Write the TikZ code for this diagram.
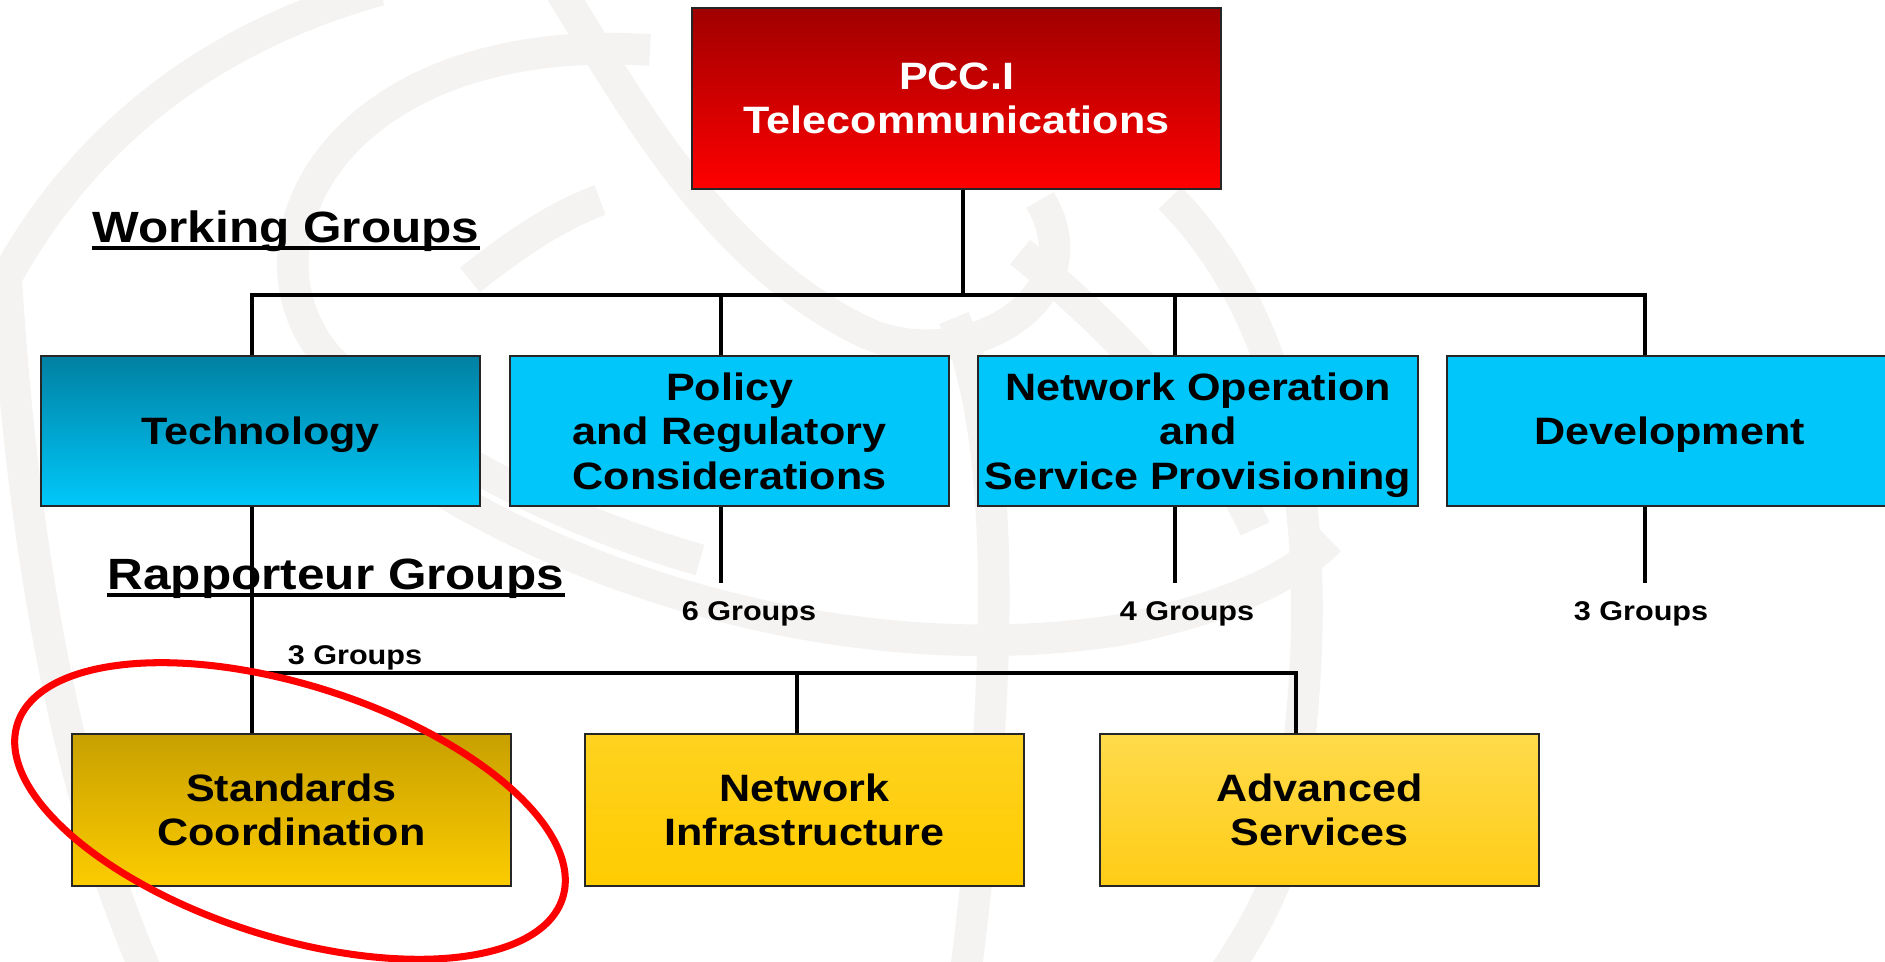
\documentclass[tikz,border=0pt]{standalone}
\usepackage{fontspec}
\setmainfont{Liberation Sans}[FakeStretch=1.13]
\usepackage{tikz}
\usetikzlibrary{positioning}

\definecolor{pcctop}{RGB}{160,0,0}
\definecolor{pccbot}{RGB}{255,0,0}
\definecolor{techtop}{RGB}{0,128,162}
\definecolor{techbot}{RGB}{0,200,250}
\definecolor{wgblue}{RGB}{0,198,249}
\definecolor{stdtop}{RGB}{200,160,0}
\definecolor{stdbot}{RGB}{252,204,0}
\definecolor{inftop}{RGB}{254,210,32}
\definecolor{infbot}{RGB}{255,204,0}
\definecolor{advtop}{RGB}{255,219,76}
\definecolor{advbot}{RGB}{255,204,22}
\definecolor{wmark}{RGB}{244,243,241}

\newcommand\boxtxt{\bfseries\fontsize{10.85}{12.6}\selectfont}
\newcommand\headtxt{\bfseries\fontsize{12.45}{14}\selectfont}
\newcommand\smalltxt{\bfseries\fontsize{7.7}{9}\selectfont}

\tikzset{
  box/.style={draw=black!85, line width=0.6pt, minimum width=4.39cm, minimum height=1.5cm,
    inner sep=0pt, align=center, font=\boxtxt, text depth=-3.6pt},
  wgbox/.style={box, fill=wgblue},
  rgbox/.style={box, minimum height=1.52cm, text depth=-1pt},
  link/.style={line width=1.2pt},
  heading/.style={anchor=base west, inner sep=0pt, font=\headtxt},
  count/.style={inner sep=0pt, font=\smalltxt},
  uline/.style={line width=1.1pt},
  ring/.style={draw=red, line width=2pt},
  globe/.style={draw=wmark, line width=9pt}
}

\begin{document}
\begin{tikzpicture}[x=0.01cm, y=-0.01cm]
\useasboundingbox (0,0) rectangle (1885,962);

% watermark
\draw[globe] (-20,330) .. controls (60,150) and (200,40) .. (380,-10);
\draw[globe] (5,260) .. controls (20,520) and (60,780) .. (150,980);
\draw[globe] (650,50) .. controls (330,30) and (230,250) .. (330,360) .. controls (420,450) and (560,520) .. (700,560);
\draw[globe] (300,380) .. controls (450,540) and (800,680) .. (1120,630) .. controls (1220,610) and (1290,580) .. (1330,540);
\draw[globe] (954,318) .. controls (1010,450) and (1000,700) .. (966,970);
\draw[globe] (1170,198) .. controls (1300,330) and (1340,560) .. (1279,872) .. controls (1260,920) and (1240,950) .. (1220,980);
\draw[globe] (1020,252) .. controls (1140,349) and (1220,450) .. (1255,529);
\draw[globe] (560,-10) .. controls (640,120) and (720,260) .. (860,330) .. controls (960,380) and (1100,300) .. (1040,200);
\draw[globe] (470,280) .. controls (520,240) and (560,215) .. (600,200);

% chair
\node[box, minimum width=5.29cm, minimum height=1.81cm, top color=pcctop, bottom color=pccbot,
  text=white] (pcc) at (956.5,98.5) {PCC.I\\Telecommunications};

% working groups
\node[box, top color=techtop, bottom color=techbot] (tech) at (260.5,431) {Technology};
\node[wgbox] (policy) at (729.5,431) {Policy\\and Regulatory\\Considerations};
\node[wgbox] (netop) at (1198,431) {Network Operation\\and\\Service Provisioning};
\node[wgbox, minimum width=4.45cm] (dev) at (1669.5,431) {Development};

% rapporteur groups
\node[rgbox, top color=stdtop, bottom color=stdbot] (std) at (291.5,810) {Standards\\Coordination};
\node[rgbox, top color=inftop, bottom color=infbot] (infra) at (804.5,810) {Network\\Infrastructure};
\node[rgbox, top color=advtop, bottom color=advbot] (adv) at (1319.5,810) {Advanced\\Services};

% headings
\node[heading] (wg) at (92,243) {Working Groups};
\draw[uline] ([yshift=-1.4pt]wg.base west) -- ([yshift=-1.4pt]wg.base east);
\node[heading] (rg) at (107,590) {Rapporteur Groups};
\draw[uline] ([yshift=-1.4pt]rg.base west) -- ([yshift=-1.4pt]rg.base east);

\node[count] (n2) at (749,614) {6 Groups};
\node[count] (n3) at (1187,614) {4 Groups};
\node[count] (n4) at (1641,614) {3 Groups};
\node[count] (n1) at (355,658) {3 Groups};

% connectors
\coordinate (top) at (963,295);
\coordinate (b1) at (252,295);
\coordinate (b2) at (721,295);
\coordinate (b3) at (1175,295);
\coordinate (b4) at (1645,295);
\draw[link] (pcc.south -| top) -- (top);
\draw[link] (tech.north -| b1) -- (b1) -- (b4) -- (dev.north -| b4);
\draw[link] (b2) -- (policy.north -| b2);
\draw[link] (b3) -- (netop.north -| b3);

\coordinate (s2) at (721,583);
\coordinate (s3) at (1175,583);
\coordinate (s4) at (1645,583);
\foreach \s/\n in {s2/policy,s3/netop,s4/dev}
  \draw[link] (\n.south -| \s) -- (\s);

\coordinate (r1) at (252,673);
\coordinate (r2) at (797,673);
\coordinate (r3) at (1296,673);
\draw[link] (tech.south -| r1) -- (std.north -| r1);
\draw[link] (r1) -- (r3) -- (adv.north -| r3);
\draw[link] (r2) -- (infra.north -| r2);

% highlight
\draw[ring, rotate around={-17.7:(290,811)}] (290,811) ellipse [x radius=2.86cm, y radius=1.26cm];
\end{tikzpicture}
\end{document}
